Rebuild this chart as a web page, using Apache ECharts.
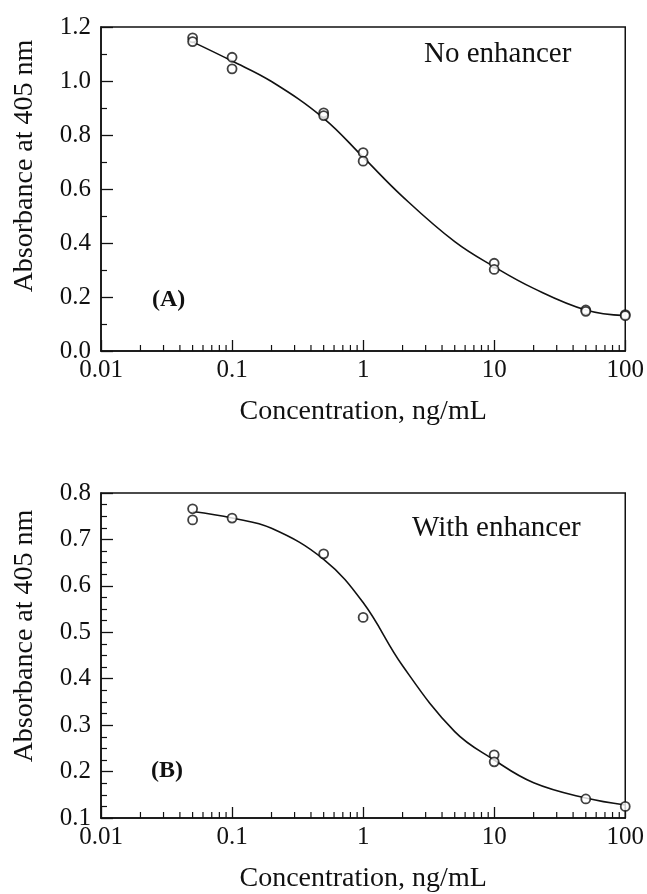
<!DOCTYPE html>
<html style="height: 100%">
<head>
    <meta charset="utf-8">
</head>
<body style="height: 100%; width: 100%; margin: 0;">
    <div id="container" style="height: 894px; width: 647px;"></div>
    <script type="text/javascript" src="https://cdn.jsdelivr.net/npm/echarts@6/dist/echarts.min.js"></script>
    <script type="text/javascript">
        // measured points (duplicate wells), concentration in ng/mL
        var concA = [0.05, 0.05, 0.1, 0.1, 0.5, 0.5, 1, 1, 10, 10, 50, 50, 100, 100];
        var absA = [1.160, 1.146, 1.088, 1.045, 0.882, 0.872, 0.735, 0.703, 0.325, 0.302, 0.152, 0.147, 0.135, 0.131];
        var concB = [0.05, 0.05, 0.1, 0.5, 1, 10, 10, 50, 100];
        var absB = [0.766, 0.742, 0.746, 0.669, 0.532, 0.236, 0.221, 0.141, 0.125];

        // fitted curves
        var curveConc = [0.05, 0.1, 0.2, 0.5, 1, 2, 5, 10, 20, 50, 100];
        var curveA = [1.145, 1.074, 0.998, 0.862, 0.718, 0.572, 0.405, 0.312, 0.232, 0.152, 0.131];
        var curveB = [0.760, 0.746, 0.724, 0.657, 0.564, 0.428, 0.286, 0.225, 0.176, 0.143, 0.128];

        var xTickLabels = ['0.01', '0.1', '1', '10', '100'];
        var xMinorTicks = [0.02, 0.03, 0.04, 0.05, 0.06, 0.07, 0.08, 0.09,
            0.2, 0.3, 0.4, 0.5, 0.6, 0.7, 0.8, 0.9,
            2, 3, 4, 5, 6, 7, 8, 9,
            20, 30, 40, 50, 60, 70, 80, 90];

        var font = 'Liberation Serif';
        var ink = '#111';

        function pairs(xs, ys) {
            return xs.map(function (x, i) { return [x, ys[i]]; });
        }

        function xAxisFor(idx) {
            return {
                type: 'log', logBase: 10, gridIndex: idx, min: 0.01, max: 100,
                name: 'Concentration, ng/mL', nameLocation: 'middle', nameGap: 47,
                nameTextStyle: { fontFamily: font, fontSize: 28, color: ink },
                axisLine: { lineStyle: { color: ink, width: 1.5 } },
                axisTick: { inside: true, length: 11, lineStyle: { color: ink, width: 1.3 } },
                axisLabel: {
                    fontFamily: font, fontSize: 25, color: ink, margin: 7,
                    formatter: function (v) { return xTickLabels[Math.round(Math.log10(v)) + 2]; }
                },
                splitLine: { show: false }
            };
        }

        function yAxisFor(idx, min, max, interval, minorSplit, pad) {
            return {
                type: 'value', gridIndex: idx, min: min, max: max, interval: interval,
                name: 'Absorbance at 405 nm', nameLocation: 'middle', nameGap: 62, nameRotate: 90,
                nameTextStyle: { fontFamily: font, fontSize: 28, color: ink, padding: [0, 0, 0, pad] },
                axisLine: { show: true, lineStyle: { color: ink, width: 1.5 } },
                axisTick: { inside: true, length: 12, lineStyle: { color: ink, width: 1.3 } },
                minorTick: { show: true, splitNumber: minorSplit, length: 6, lineStyle: { color: ink, width: 1.2 } },
                axisLabel: {
                    fontFamily: font, fontSize: 25, color: ink, margin: 10,
                    formatter: function (v) { return v.toFixed(1); }
                },
                splitLine: { show: false }
            };
        }

        function minorTickSeries(idx, yMin) {
            return {
                type: 'custom', xAxisIndex: idx, yAxisIndex: idx, silent: true, clip: false, z: 1,
                data: xMinorTicks.map(function (v) { return [v, yMin]; }),
                renderItem: function (params, api) {
                    var p = api.coord([api.value(0), api.value(1)]);
                    return {
                        type: 'line',
                        shape: { x1: p[0], y1: p[1], x2: p[0], y2: p[1] - 6 },
                        style: { stroke: ink, lineWidth: 1.2 }
                    };
                }
            };
        }

        function curveSeries(idx, ys) {
            return {
                type: 'line', xAxisIndex: idx, yAxisIndex: idx, data: pairs(curveConc, ys),
                smooth: 0.4, showSymbol: false, silent: true, z: 2,
                lineStyle: { color: ink, width: 1.6 }
            };
        }

        function pointSeries(idx, xs, ys) {
            return {
                type: 'scatter', xAxisIndex: idx, yAxisIndex: idx, data: pairs(xs, ys),
                symbol: 'circle', symbolSize: 9, z: 3,
                itemStyle: { color: '#fff', borderColor: ink, borderWidth: 1.8 }
            };
        }

        var dom = document.getElementById('container');
        var myChart = echarts.init(dom, null, { renderer: 'canvas' });

        var option = {
            backgroundColor: '#fff',
            animation: false,
            grid: [
                { left: 101, right: 17, top: 27, height: 324, show: true, borderColor: ink, borderWidth: 1.5 },
                { left: 101, right: 20, top: 493, height: 327, show: true, borderColor: ink, borderWidth: 1.5 }
            ],
            xAxis: [xAxisFor(0), xAxisFor(1)],
            yAxis: [
                yAxisFor(0, 0, 1.2, 0.2, 2, 46),
                yAxisFor(1, 0.1, 0.8, 0.1, 4, 39)
            ],
            graphic: [
                { type: 'text', left: 424, top: 40, style: { text: 'No enhancer', font: '29px ' + font, fill: ink } },
                { type: 'text', left: 152, top: 288, style: { text: '(A)', font: 'bold 24px ' + font, fill: ink } },
                { type: 'text', left: 412, top: 514, style: { text: 'With enhancer', font: '29px ' + font, fill: ink } },
                { type: 'text', left: 151, top: 759, style: { text: '(B)', font: 'bold 24px ' + font, fill: ink } }
            ],
            series: [
                minorTickSeries(0, 0),
                minorTickSeries(1, 0.1),
                curveSeries(0, curveA),
                curveSeries(1, curveB),
                pointSeries(0, concA, absA),
                pointSeries(1, concB, absB)
            ]
        };

        myChart.setOption(option);
        window.onresize = myChart.resize;
    </script>
</body>
</html>
